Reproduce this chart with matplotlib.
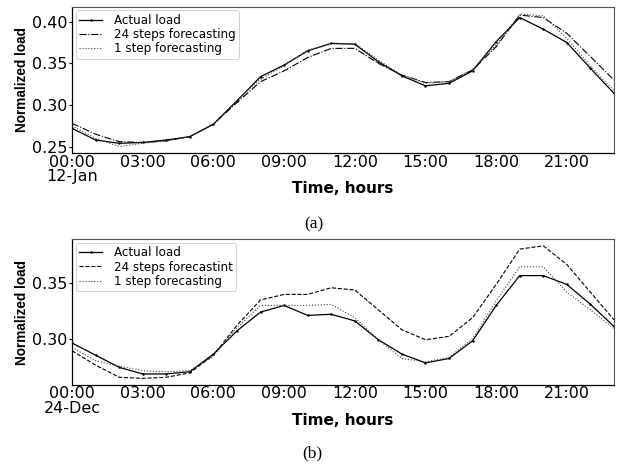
import matplotlib
matplotlib.use('Agg')
import matplotlib.pyplot as plt
import numpy as np

# hourly values, 00:00 .. 23:00
hours = list(range(24))
tick_pos = [0, 3, 6, 9, 12, 15, 18, 21]

# (a) 12-Jan
jan_actual = [0.272, 0.258, 0.254, 0.255, 0.258, 0.262, 0.277, 0.305, 0.334, 0.348,
              0.365, 0.374, 0.373, 0.352, 0.335, 0.323, 0.326, 0.341, 0.376, 0.405,
              0.391, 0.375, 0.344, 0.314]
jan_24step = [0.278, 0.265, 0.256, 0.255, 0.257, 0.262, 0.277, 0.303, 0.328, 0.341,
              0.357, 0.368, 0.368, 0.350, 0.336, 0.327, 0.328, 0.342, 0.370, 0.408,
              0.405, 0.386, 0.358, 0.330]
jan_1step = [0.275, 0.260, 0.250, 0.254, 0.257, 0.262, 0.277, 0.306, 0.331, 0.347,
             0.366, 0.373, 0.374, 0.354, 0.336, 0.326, 0.328, 0.343, 0.372, 0.409,
             0.407, 0.380, 0.347, 0.317]

# (b) 24-Dec
dec_actual = [0.296, 0.285, 0.274, 0.268, 0.268, 0.270, 0.286, 0.307, 0.324, 0.330,
              0.321, 0.322, 0.316, 0.299, 0.286, 0.278, 0.282, 0.298, 0.330, 0.357,
              0.357, 0.349, 0.331, 0.311]
dec_24step = [0.289, 0.276, 0.265, 0.264, 0.265, 0.269, 0.285, 0.312, 0.335, 0.340,
              0.340, 0.346, 0.344, 0.326, 0.308, 0.299, 0.302, 0.319, 0.349, 0.381,
              0.384, 0.367, 0.342, 0.317]
dec_1step = [0.292, 0.280, 0.275, 0.271, 0.270, 0.271, 0.284, 0.310, 0.330, 0.330,
             0.330, 0.331, 0.319, 0.299, 0.282, 0.279, 0.283, 0.300, 0.334, 0.365,
             0.365, 0.342, 0.326, 0.309]

jan_ticks = ['00:00\n12-Jan', '03:00', '06:00', '09:00', '12:00', '15:00', '18:00', '21:00']
dec_ticks = ['00:00\n24-Dec', '03:00', '06:00', '09:00', '12:00', '15:00', '18:00', '21:00']

plt.rcParams['font.family'] = ['DejaVu Sans']

fig = plt.figure(figsize=(6.3, 4.66), dpi=100)
ax1 = fig.add_axes([0.1143, 0.671, 0.8603, 0.3146])
ax2 = fig.add_axes([0.1143, 0.1738, 0.8603, 0.3130])


def draw(ax, actual, f24, f1, ls24, lab24, ticks, ylim, yticks):
    ax.plot(hours, actual, color='black', lw=0.9, marker='.', markersize=1.5,
            label='Actual load')
    ax.plot(hours, f24, color='black', lw=0.8, ls=ls24, label=lab24)
    ax.plot(hours, f1, color='#444444', lw=0.8, ls=':', label='1 step forecasting')
    ax.set_xlim(0, 23)
    ax.set_ylim(*ylim)
    ax.set_xticks(tick_pos)
    ax.set_xticklabels(ticks, fontsize=11.5, linespacing=0.95)
    ax.set_yticks(yticks)
    ax.set_yticklabels(['%.2f' % v for v in yticks], fontsize=11.5)
    ax.tick_params(axis='x', length=0, pad=1)
    ax.tick_params(axis='y', length=2.5, width=0.8, pad=1)
    for s in ['top', 'right']:
        ax.spines[s].set_color('#555555')
        ax.spines[s].set_linewidth(0.8)
    for s in ['left', 'bottom']:
        ax.spines[s].set_linewidth(0.9)
    ax.set_ylabel('Normalized load', fontsize=9.8, fontweight='bold',
                  family=['Liberation Sans', 'DejaVu Sans'])
    ax.yaxis.set_label_coords(-0.08, 0.5)
    ax.set_xlabel('Time, hours', fontsize=11, fontweight='bold')
    ax.xaxis.set_label_coords(0.5, -0.19)
    leg = ax.legend(loc='upper left', fontsize=8.6, labelspacing=0.1,
                    handlelength=1.9, handletextpad=1.0, borderpad=0.3,
                    borderaxespad=0.3, fancybox=True, framealpha=1)
    leg.get_frame().set_linewidth(0.6)
    leg.get_frame().set_edgecolor('#cccccc')


draw(ax1, jan_actual, jan_24step, jan_1step, '-.', '24 steps forecasting',
     jan_ticks, (0.242, 0.418), [0.25, 0.30, 0.35, 0.40])
draw(ax2, dec_actual, dec_24step, dec_1step, '--', '24 steps forecastint',
     dec_ticks, (0.258, 0.390), [0.30, 0.35])

fig.text(0.498, 1 - 224 / 466, '(a)', ha='center', va='center', fontsize=12.5,
         family=['Liberation Serif', 'DejaVu Serif'])
fig.text(0.495, 1 - 453 / 466, '(b)', ha='center', va='center', fontsize=12.5,
         family=['Liberation Serif', 'DejaVu Serif'])

fig.savefig('out.png', dpi=100)
